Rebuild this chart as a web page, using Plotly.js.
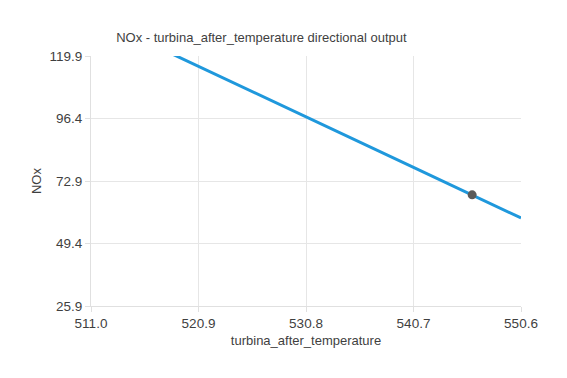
<!DOCTYPE html>
<html>
<head>
<meta charset="utf-8">
<script src="https://cdn.plot.ly/plotly-3.0.1.min.js"></script>
<style>html,body{margin:0;padding:0;background:#fff;}#chart{width:567px;height:378px;}</style>
</head>
<body>
<div id="chart"></div>
<script>
// Data
const temperature = [511.0, 520.9, 530.8, 540.7, 550.6];
const nox = [135.0, 116.1, 97.1, 78.0, 59.0];
const pointX = [546.1];
const pointY = [67.7];
const xTicks = [511.0, 520.9, 530.8, 540.7, 550.6];
const yTicks = [25.9, 49.4, 72.9, 96.4, 119.9];

const font = "Tahoma, 'Liberation Sans', Arial, sans-serif";
const txt = '#3f3f3f';
const traces = [
  {x: temperature, y: nox, type: 'scatter', mode: 'lines',
   line: {color: '#1f98dc', width: 3}, hoverinfo: 'skip', showlegend: false},
  {x: pointX, y: pointY, type: 'scatter', mode: 'markers',
   marker: {color: '#5a5a5a', size: 9}, showlegend: false}
];
const layout = {
  width: 567, height: 378,
  margin: {l: 91, r: 46, t: 56, b: 72},
  paper_bgcolor: '#fff', plot_bgcolor: '#fff',
  font: {family: font, size: 13, color: txt},
  title: {text: 'NOx - turbina_after_temperature directional output',
          font: {family: font, size: 13, color: txt},
          xref: 'container', x: 0.461, xanchor: 'center',
          yref: 'container', y: 0.902, yanchor: 'middle'},
  xaxis: {range: [511.0, 550.6], tickvals: xTicks, ticktext: xTicks.map(v => v.toFixed(1)),
          showgrid: true, gridcolor: '#e6e6e6', zeroline: false, showline: true, linecolor: '#e0e0e0',
          ticks: 'outside', ticklen: 5, tickcolor: '#e0e0e0',
          tickfont: {size: 13.5, color: txt},
          title: {text: 'turbina_after_temperature', font: {size: 13, color: txt}, standoff: 5}},
  yaxis: {range: [25.9, 119.9], tickvals: yTicks, ticktext: yTicks.map(v => v.toFixed(1)),
          showgrid: true, gridcolor: '#e6e6e6', zeroline: false, showline: true, linecolor: '#e0e0e0',
          ticks: 'outside', ticklen: 5, tickcolor: '#e0e0e0',
          tickfont: {size: 13.5, color: txt},
          title: {text: 'NOx', font: {size: 13, color: txt}, standoff: 4}}
};
Plotly.newPlot('chart', traces, layout, {displayModeBar: false, staticPlot: true});
</script>
</body>
</html>
